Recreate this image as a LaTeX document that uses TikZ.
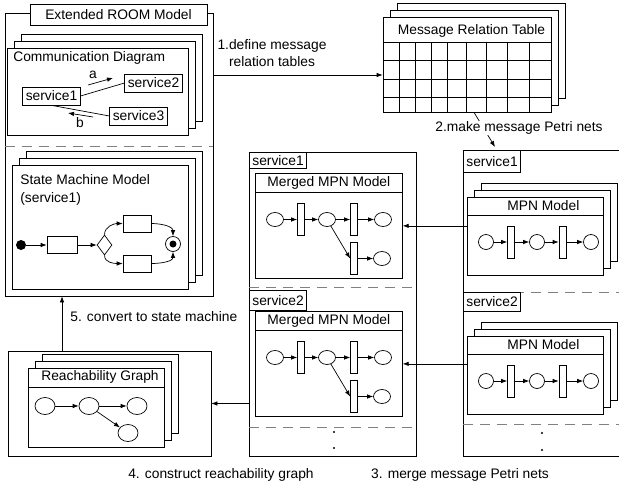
\documentclass[tikz,border=0pt]{standalone}
\usepackage{fontspec}
\setmainfont{Liberation Sans}
\usetikzlibrary{arrows.meta,shapes.geometric,shadows}

\tikzset{
	box/.style={draw, fill=white, inner sep=0pt},
	pages/.style={box, double copy shadow={shadow xshift=7pt, shadow yshift=7pt}},
	tag/.style={draw, fill=white, inner xsep=3pt, inner ysep=1pt, minimum height=18pt},
	sep/.style={draw=gray, dash pattern=on 10pt off 7pt},
	place/.style={draw, ellipse, inner sep=0pt, minimum width=17pt, minimum height=14pt},
	mplace/.style={place, minimum width=15pt, minimum height=15pt},
	rstate/.style={place, minimum width=20pt, minimum height=17pt},
	trans/.style={draw, fill=white, inner sep=0pt, minimum width=7pt, minimum height=32pt},
	smstate/.style={draw, inner sep=0pt, minimum width=28pt, minimum height=17pt}
}

\begin{document}
\begin{tikzpicture}[x=1pt,y=-1pt,line width=0.7pt,inner sep=2pt,
	font=\fontsize{13.8}{17}\selectfont,>={Latex[length=6pt,width=4.5pt]}]
	\useasboundingbox (0,0) rectangle (619,488);
	\clip (0,0) rectangle (619,488);

	% extended ROOM model
	\node[box, minimum width=208pt, minimum height=283pt] (room) at (109,154.5) {};
	\node[tag, minimum width=177pt, minimum height=21pt] (roomtitle) at (118.5,14.5) {Extended ROOM Model};
	\draw[sep] (room.west |- 0,146) -- (room.east |- 0,146);

	% communication diagram
	\node[pages, minimum width=181pt, minimum height=87pt] (comm) at (97.5,91.5) {};
	\node[anchor=west, inner sep=0pt] (commtitle) at (13,58) {Communication Diagram};
	\node[tag] (sv1) at (51.5,96) {service1};
	\node[tag] (sv2) at (153.5,83) {service2};
	\node[tag] (sv3) at (138.5,116) {service3};
	\draw (sv1.east) -- (sv2.west);
	\draw (sv1.south) -- (sv3.west);
	\coordinate (a0) at (88,85);
	\coordinate (a1) at (113,78);
	\draw[->] (a0) -- (a1);
	\node (la) at (93,75) {a};
	\coordinate (b0) at (93,117);
	\coordinate (b1) at (68,113);
	\draw[->] (b0) -- (b1);
	\node (lb) at (80,123) {b};

	% state machine
	\node[pages, minimum width=176pt, minimum height=124pt] (sm) at (100,227) {};
	\node[anchor=north west, align=left, inner sep=0pt] (smtitle) at (20,174) {State Machine Model\\[1pt](service1)};
	\node[circle, fill, inner sep=0pt, minimum size=10pt] (init) at (21,245) {};
	\node[smstate, minimum width=30pt] (s1) at (62,245) {};
	\node[draw, diamond, inner sep=0pt, minimum width=15pt, minimum height=20pt] (dia) at (104.5,245) {};
	\node[smstate] (up) at (137,223.5) {};
	\node[smstate] (lo) at (137,263.5) {};
	\node[circle, draw, inner sep=0pt, minimum size=15pt] (fin) at (173,244) {};
	\node[circle, fill, inner sep=0pt, minimum size=7pt] (findot) at (fin) {};
	\draw[->] (init) -- (s1);
	\draw[->] (s1) -- (dia);
	\draw[->] (dia.north) to[out=90,in=180] (up.west);
	\draw[->] (up.east) to[out=0,in=90] (fin.north);
	\draw[->] (dia.south) to[out=-90,in=180] (lo.west);
	\draw[->] (lo.east) to[out=0,in=-90] (fin.south);

	% message relation table
	\node[pages, minimum width=168pt, minimum height=95pt] (tbl) at (467,64.5) {};
	\node (tbltitle) at (471.5,31) {Message Relation Table};
	\foreach \r in {42,60,79,97}
		\draw (tbl.west |- 0,\r) -- (tbl.east |- 0,\r);
	\foreach \c in {399,415,431,447,466,486,507,529}
		\draw (\c,42) -- (\c,112);

	\coordinate (r1) at ([yshift=-10.5pt]tbl.west);
	\draw[->] (room.east |- r1) -- (r1);
	\node[align=center] (l1) at (272,53) {1.define message\\relation tables};

	% message Petri nets
	\node[draw, anchor=north west, minimum width=170pt, minimum height=306pt] (rcol) at (463,150) {};
	\coordinate (m2) at (495,147);
	\draw[->] ([xshift=7pt]tbl.south) -- (m2);
	\node[fill=white, inner sep=1pt] (l2) at (519,128) {2.make message Petri nets};
	\node[tag, minimum height=22pt, anchor=north west] (rs1) at (rcol.north west) {service1};
	\draw[sep] (rcol.west |- 0,292) -- (rcol.east |- 0,292);
	\node[tag, minimum height=19pt, anchor=north west] (rs2) at (rcol.west |- 0,292) {service2};
	\draw[sep] (rcol.west |- 0,424) -- (rcol.east |- 0,424);
	\fill (542,433) circle (1.1pt) (542,450) circle (1.1pt);

	% merged Petri nets
	\node[draw, anchor=north west, minimum width=167pt, minimum height=304pt] (mcol) at (249,152) {};
	\node[tag, minimum height=16pt, anchor=north west] (ms1) at (mcol.north west) {service1};
	\draw[sep] (mcol.west |- 0,287) -- (mcol.east |- 0,287);
	\node[tag, minimum height=20pt, anchor=north west] (ms2) at (mcol.west |- 0,290) {service2};
	\draw[sep] (mcol.west |- 0,427) -- (mcol.east |- 0,427);
	\fill (334,432) circle (1.1pt) (334,448) circle (1.1pt);

	\foreach \i/\y in {1/197,2/336}{
		\node[pages, anchor=north west, minimum width=136pt, minimum height=78pt] (mpn\i) at (467,\y) {};
		\draw ([yshift=-18pt]mpn\i.north west) -- ([yshift=-18pt]mpn\i.north east);
		\node (mt\i) at ([xshift=8pt,yshift=-9pt]mpn\i.north) {MPN Model};
		\node[mplace] (pa\i) at ([xshift=19pt,yshift=-45pt]mpn\i.north west) {};
		\node[trans] (ta\i) at ([xshift=44pt,yshift=-45pt]mpn\i.north west) {};
		\node[mplace] (pb\i) at ([xshift=70pt,yshift=-45pt]mpn\i.north west) {};
		\node[trans] (tb\i) at ([xshift=95.5pt,yshift=-45pt]mpn\i.north west) {};
		\node[mplace] (pc\i) at ([xshift=124pt,yshift=-45pt]mpn\i.north west) {};
		\draw[->] (pa\i) -- (ta\i);
		\draw[->] (ta\i) -- (pb\i);
		\draw[->] (pb\i) -- (tb\i);
		\draw[->] (tb\i) -- (pc\i);
	}

	\foreach \i/\y in {1/173,2/311}{
		\node[box, anchor=north west, minimum width=147pt, minimum height=105pt] (mg\i) at (255,\y) {};
		\draw ([yshift=-19pt]mg\i.north west) -- ([yshift=-19pt]mg\i.north east);
		\node (mgt\i) at ([yshift=-10pt]mg\i.north) {Merged MPN Model};
		\node[place] (qa\i) at ([xshift=20pt,yshift=-46.5pt]mg\i.north west) {};
		\node[trans] (ua\i) at ([xshift=46pt,yshift=-46.5pt]mg\i.north west) {};
		\node[place] (qb\i) at ([xshift=72pt,yshift=-46.5pt]mg\i.north west) {};
		\node[trans] (ub\i) at ([xshift=99pt,yshift=-46.5pt]mg\i.north west) {};
		\node[place] (qc\i) at ([xshift=128pt,yshift=-46.5pt]mg\i.north west) {};
		\node[trans] (uc\i) at ([xshift=99pt,yshift=-85.5pt]mg\i.north west) {};
		\node[place] (qd\i) at ([xshift=127pt,yshift=-85.5pt]mg\i.north west) {};
		\draw[->] (qa\i) -- (ua\i);
		\draw[->] (ua\i) -- (qb\i);
		\draw[->] (qb\i) -- (ub\i);
		\draw[->] (ub\i) -- (qc\i);
		\draw[->] (qb\i) -- (uc\i.west);
		\draw[->] (uc\i) -- (qd\i);
		\draw[->] (mpn\i.west |- mg\i.east) -- (mg\i.east);
	}

	% reachability graph
	\node[box, minimum width=203pt, minimum height=105pt] (reach) at (109.5,403.5) {};
	\node[pages, minimum width=136pt, minimum height=79pt] (rg) at (96,407.5) {};
	\draw ([yshift=-19.5pt]rg.north west) -- ([yshift=-19.5pt]rg.north east);
	\node (rgt) at (100,377) {Reachability Graph};
	\node[rstate] (n1) at (45,406) {};
	\node[rstate] (n2) at (89,406) {};
	\node[rstate] (n3) at (137,406) {};
	\node[rstate] (n4) at (128,433) {};
	\draw[->] (n1) -- (n2);
	\draw[->] (n2) -- (n3);
	\draw[->] (n2) -- (n4);

	\draw[->] (mcol.west |- reach.east) -- (reach.east);
	\coordinate (c5) at ([xshift=-47.5pt]reach.north);
	\draw[->] (c5) -- (c5 |- room.south);
	\node[anchor=west, inner sep=0pt] (l5) at (70,317) {5. convert to state machine};
	\node (l4) at (221,475) {4. construct reachability graph};
	\node (l3) at (460,475) {3. merge message Petri nets};
\end{tikzpicture}
\end{document}
